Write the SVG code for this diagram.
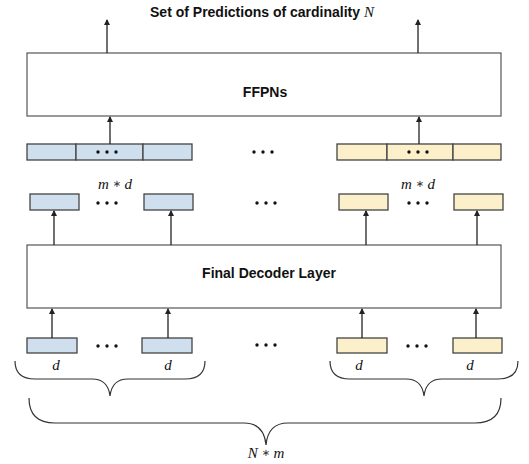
<svg xmlns="http://www.w3.org/2000/svg" width="529" height="464" viewBox="0 0 529 464">
<style>
.bg{fill:#ffffff}
.big{fill:#ffffff;stroke:#555555;stroke-width:1.2}
.blue{fill:#cfdfee;stroke:#444444;stroke-width:1.3}
.yel{fill:#fbf0ca;stroke:#444444;stroke-width:1.3}
.lbl{font-family:"Liberation Sans",Arial,sans-serif;font-weight:bold;font-size:14px;fill:#111111;text-anchor:middle}
.math{font-family:"Liberation Serif","Times New Roman",serif;font-style:italic;font-size:15px;fill:#111111;text-anchor:middle}
.up{font-style:normal;font-family:"DejaVu Sans",sans-serif;font-weight:normal;font-size:10px;fill:#333333}
.arr{stroke:#222222;stroke-width:1.3;fill:none;marker-end:url(#ah)}
.brace{stroke:#333333;stroke-width:1.2;fill:none}
.dot{fill:#111111}
</style>
<defs>
<marker id="ah" viewBox="0 0 6 8" refX="5" refY="4" markerWidth="6" markerHeight="8" markerUnits="userSpaceOnUse" orient="auto">
<path d="M0,1 L6,4 L0,7 Z" fill="#222222"/>
</marker>
</defs>
<rect class="bg" x="0" y="0" width="529" height="464"/>

<g id="title">
<text class="lbl" x="262" y="17">Set of Predictions of cardinality <tspan font-family="Liberation Serif,serif" font-style="italic" font-weight="normal" font-size="15">N</tspan></text>
</g>

<g id="ffpns">
<rect class="big" x="27" y="53" width="474" height="63"/>
<text class="lbl" x="265" y="97">FFPNs</text>
</g>

<g id="concat-left">
<rect class="blue" x="27" y="144" width="49" height="16"/>
<rect class="blue" x="76" y="144" width="67" height="16"/>
<rect class="blue" x="143" y="144" width="49" height="16"/>
<circle class="dot" cx="98" cy="152" r="1.7"/><circle class="dot" cx="107" cy="152" r="1.7"/><circle class="dot" cx="116" cy="152" r="1.7"/>
</g>
<g id="concat-right">
<rect class="yel" x="337" y="144" width="50" height="16"/>
<rect class="yel" x="387" y="144" width="66" height="16"/>
<rect class="yel" x="453" y="144" width="48" height="16"/>
<circle class="dot" cx="409" cy="152" r="1.7"/><circle class="dot" cx="418" cy="152" r="1.7"/><circle class="dot" cx="427" cy="152" r="1.7"/>
</g>
<g id="concat-mid-dots">
<circle class="dot" cx="254" cy="152" r="1.7"/><circle class="dot" cx="263" cy="152" r="1.7"/><circle class="dot" cx="272" cy="152" r="1.7"/>
</g>

<g id="md-left"><text class="math" x="115" y="189">m <tspan class="up" dy="-2">∗</tspan> <tspan dy="2">d</tspan></text></g>
<g id="md-right"><text class="math" x="418" y="189">m <tspan class="up" dy="-2">∗</tspan> <tspan dy="2">d</tspan></text></g>

<g id="out-left">
<rect class="blue" x="30" y="194" width="49" height="16"/>
<rect class="blue" x="144" y="194" width="49" height="16"/>
<circle class="dot" cx="98" cy="203" r="1.7"/><circle class="dot" cx="107" cy="203" r="1.7"/><circle class="dot" cx="116" cy="203" r="1.7"/>
</g>
<g id="out-right">
<rect class="yel" x="339" y="194" width="49" height="16"/>
<rect class="yel" x="454" y="194" width="49" height="16"/>
<circle class="dot" cx="409" cy="203" r="1.7"/><circle class="dot" cx="418" cy="203" r="1.7"/><circle class="dot" cx="427" cy="203" r="1.7"/>
</g>
<g id="out-mid-dots">
<circle class="dot" cx="257" cy="203" r="1.7"/><circle class="dot" cx="266" cy="203" r="1.7"/><circle class="dot" cx="275" cy="203" r="1.7"/>
</g>

<g id="decoder">
<rect class="big" x="27" y="245" width="474" height="63"/>
<text class="lbl" x="269" y="278">Final Decoder Layer</text>
</g>

<g id="in-left">
<rect class="blue" x="27" y="338" width="50" height="15"/>
<rect class="blue" x="142" y="338" width="50" height="15"/>
<circle class="dot" cx="98" cy="346" r="1.7"/><circle class="dot" cx="107" cy="346" r="1.7"/><circle class="dot" cx="116" cy="346" r="1.7"/>
</g>
<g id="in-right">
<rect class="yel" x="337" y="338" width="50" height="15"/>
<rect class="yel" x="453" y="338" width="49" height="15"/>
<circle class="dot" cx="408" cy="346" r="1.7"/><circle class="dot" cx="417" cy="346" r="1.7"/><circle class="dot" cx="426" cy="346" r="1.7"/>
</g>
<g id="in-mid-dots">
<circle class="dot" cx="257" cy="345" r="1.7"/><circle class="dot" cx="266" cy="345" r="1.7"/><circle class="dot" cx="275" cy="345" r="1.7"/>
</g>

<g id="d-labels">
<text class="math" x="56" y="370">d</text>
<text class="math" x="168" y="370">d</text>
<text class="math" x="359" y="370">d</text>
<text class="math" x="470" y="370">d</text>
</g>

<g id="braces">
<path class="brace" d="M15,361 Q15,379 35,379 L92,379 Q108,379 110,396 Q112,379 128,379 L185,379 Q205,379 205,361"/>
<path class="brace" d="M330,361 Q330,379 350,379 L406,379 Q422,379 424,396 Q426,379 442,379 L498,379 Q518,379 518,361"/>
<path class="brace" d="M29,398 Q29,423 55,423 L244,423 Q264,423 266,445 Q268,423 288,423 L475,423 Q501,423 501,398"/>
</g>
<g id="nm-label"><text class="math" x="266" y="458">N <tspan class="up" dy="-2">∗</tspan> <tspan dy="2">m</tspan></text></g>

<g id="connectors">
<line class="arr" x1="107" y1="53" x2="107" y2="20"/>
<line class="arr" x1="418" y1="53" x2="418" y2="20"/>
<line class="arr" x1="110" y1="144" x2="110" y2="117"/>
<line class="arr" x1="419" y1="144" x2="419" y2="117"/>
<line class="arr" x1="54" y1="245" x2="54" y2="211"/>
<line class="arr" x1="171" y1="245" x2="171" y2="211"/>
<line class="arr" x1="366" y1="245" x2="366" y2="211"/>
<line class="arr" x1="477" y1="245" x2="477" y2="211"/>
<line class="arr" x1="52" y1="338" x2="52" y2="309"/>
<line class="arr" x1="168" y1="338" x2="168" y2="309"/>
<line class="arr" x1="362" y1="338" x2="362" y2="309"/>
<line class="arr" x1="476" y1="338" x2="476" y2="309"/>
</g>
</svg>
